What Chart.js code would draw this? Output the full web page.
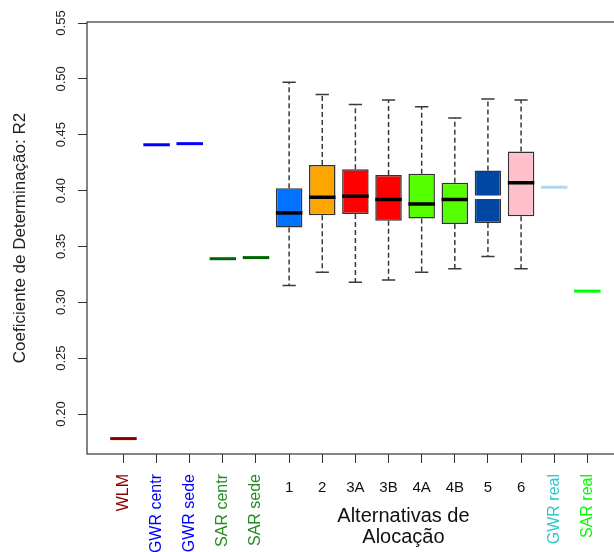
<!DOCTYPE html>
<html><head><meta charset="utf-8">
<script src="https://cdn.jsdelivr.net/npm/chart.js@4/dist/chart.umd.min.js"></script>
<style>html,body{margin:0;padding:0;background:#fff;overflow:hidden}canvas{display:block}</style>
</head><body>
<canvas id="c" width="700" height="552"></canvas>
<script>
// ---------- data ----------
const categories = ['WLM','GWR centr','GWR sede','SAR centr','SAR sede','1','2','3A','3B','4A','4B','5','6','GWR real','SAR real'];
const singleModels = ['WLM','GWR centr','GWR sede','SAR centr','SAR sede','GWR real','SAR real'];
const singleValues = [0.178, 0.441, 0.442, 0.339, 0.340, 0.403, 0.310];
const boxCategories = ['1','2','3A','3B','4A','4B','5','6'];
const boxMin    = [0.315, 0.327, 0.318, 0.320, 0.327, 0.330, 0.341, 0.330];
const boxQ1     = [0.367, 0.378, 0.379, 0.373, 0.375, 0.370, 0.371, 0.377];
const boxMedian = [0.380, 0.394, 0.395, 0.392, 0.388, 0.392, 0.394, 0.407];
const boxQ3     = [0.402, 0.423, 0.419, 0.414, 0.415, 0.407, 0.418, 0.435];
const boxMax    = [0.497, 0.486, 0.477, 0.481, 0.475, 0.465, 0.482, 0.481];
const yTicks = [0.20, 0.25, 0.30, 0.35, 0.40, 0.45, 0.50, 0.55];
const yTitle = 'Coeficiente de Determinação: R2';
const xTitleLines = ['Alternativas de', 'Alocação'];

// ---------- style ----------
const segColor = {'WLM':'#8B0000','GWR centr':'#0000FF','GWR sede':'#0000FF','SAR centr':'#006400','SAR sede':'#006400','GWR real':'#ADD8E6','SAR real':'#00FF00'};
const labelColor = {'WLM':'#8B0000','GWR centr':'#0000FF','GWR sede':'#0000FF','SAR centr':'#228B22','SAR sede':'#228B22','GWR real':'#33C6CC','SAR real':'#00FF00'};
const boxFill = {'1':'#0072FF','2':'#FFA500','3A':'#FF0000','3B':'#FF0000','4A':'#55FF00','4B':'#55FF00','5':'#0047A3','6':'#FFC0CB'};
const medianColor = {'5':'#FFFFFF'};
const HALF = 0.4, CAP = 0.2;
const FONT = "'Liberation Sans', Arial, sans-serif";
Chart.defaults.font.family = FONT;

const pos = c => categories.indexOf(c) + 1;

const datasets = [];
// single-value model segments
singleModels.forEach((m, i) => {
  datasets.push({type:'line', order:1, data:[{x:pos(m)-HALF, y:singleValues[i]},{x:pos(m)+HALF, y:singleValues[i]}],
    borderColor:segColor[m], borderWidth:3, pointRadius:0, borderCapStyle:'butt', fill:false});
});
// boxes
datasets.push({type:'bar', order:2,
  data: boxCategories.map((c,i)=>({x:pos(c), y:[boxQ1[i], boxQ3[i]]})),
  backgroundColor: boxCategories.map(c=>boxFill[c]), borderColor:'#333', borderWidth:1.5,
  borderSkipped:false, barPercentage:0.8, categoryPercentage:1.0});
// medians
boxCategories.forEach((c,i)=>{
  datasets.push({type:'line', order:0, data:[{x:pos(c)-HALF, y:boxMedian[i]},{x:pos(c)+HALF, y:boxMedian[i]}],
    borderColor: medianColor[c] || '#000', borderWidth:3.5, pointRadius:0, borderCapStyle:'butt', fill:false});
});
// whiskers (dashed) and caps
const whisk = [], caps = [];
boxCategories.forEach((c,i)=>{
  const x = pos(c);
  whisk.push({x, y:boxQ3[i]}, {x, y:boxMax[i]}, {x, y:null}, {x, y:boxQ1[i]}, {x, y:boxMin[i]}, {x, y:null});
  caps.push({x:x-CAP, y:boxMax[i]}, {x:x+CAP, y:boxMax[i]}, {x, y:null}, {x:x-CAP, y:boxMin[i]}, {x:x+CAP, y:boxMin[i]}, {x, y:null});
});
datasets.push({type:'line', order:3, data:whisk, borderColor:'#3a3a3a', borderWidth:1.5, borderDash:[5,3], pointRadius:0, spanGaps:false, fill:false});
datasets.push({type:'line', order:3, data:caps, borderColor:'#3a3a3a', borderWidth:1.5, pointRadius:0, spanGaps:false, fill:false});

const framePlugin = {
  id:'frame',
  beforeDatasetsDraw(chart){
    const {ctx, chartArea:a} = chart;
    ctx.save(); ctx.strokeStyle='#333'; ctx.lineWidth=1.2;
    ctx.strokeRect(a.left, a.top, a.right-a.left, a.bottom-a.top);
    ctx.restore();
  },
  afterDraw(chart){
    const {ctx, chartArea:a} = chart; const xs = chart.scales.x;
    ctx.save();
    categories.forEach((c,i)=>{
      const px = xs.getPixelForValue(i+1);
      if (boxCategories.includes(c)) {
        ctx.font = '15px ' + FONT; ctx.fillStyle = '#111'; ctx.textAlign='center'; ctx.textBaseline='middle';
        ctx.fillText(c, px, a.bottom + 34);
      } else {
        ctx.save(); ctx.translate(px, a.bottom + 20); ctx.rotate(-Math.PI/2);
        ctx.font = '16px ' + FONT; ctx.fillStyle = labelColor[c]; ctx.textAlign='right'; ctx.textBaseline='middle';
        ctx.fillText(c, 0, 0); ctx.restore();
      }
    });
    ctx.font = '20px ' + FONT; ctx.fillStyle='#111'; ctx.textAlign='center'; ctx.textBaseline='alphabetic';
    const tx = xs.getPixelForValue(9.45);
    ctx.fillText(xTitleLines[0], tx, a.bottom + 68);
    ctx.fillText(xTitleLines[1], tx, a.bottom + 89);
    ctx.restore();
  }
};

new Chart(document.getElementById('c'), {
  type:'bar',
  data:{datasets},
  options:{
    responsive:false, animation:false, devicePixelRatio:1,
    layout:{padding:{top:22, right:0, left:0, bottom:0}},
    plugins:{legend:{display:false}, tooltip:{enabled:false}},
    scales:{
      x:{type:'linear', min:-0.1, max:18.4, offset:false,
        grid:{display:true, offset:false, drawOnChartArea:false, drawTicks:true, tickLength:9, color:'#333'},
        border:{display:false},
        ticks:{display:false},
        afterBuildTicks(s){ s.ticks = categories.map((c,i)=>({value:i+1})); },
        afterFit(s){ s.height = 98; }
      },
      y:{type:'linear', min:0.1642, max:0.5509, beginAtZero:false,
        grid:{display:true, drawOnChartArea:false, drawTicks:true, tickLength:9, color:'#333'},
        border:{display:false},
        ticks:{font:{size:13}, color:'#222', minRotation:90, maxRotation:90, crossAlign:'center', padding:4,
          callback:v=>v.toFixed(2)},
        afterBuildTicks(s){ s.ticks = yTicks.map(v=>({value:v})); },
        title:{display:true, text:yTitle, font:{size:17}, color:'#222', padding:{top:10,bottom:0}},
        afterFit(s){ s.width = 87; }
      }
    }
  },
  plugins:[framePlugin]
});
</script>
</body></html>
